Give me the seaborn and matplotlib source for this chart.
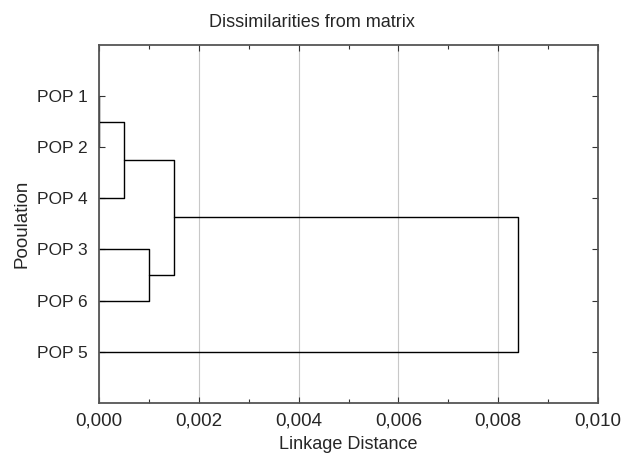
import matplotlib
matplotlib.use("Agg")
import matplotlib.pyplot as plt
from matplotlib.ticker import FuncFormatter, MultipleLocator
import seaborn as sns
import pandas as pd

# leaves in dendrogram order (top to bottom)
populations = ["POP 1", "POP 2", "POP 4", "POP 3", "POP 6", "POP 5"]

# merges: cluster ids 0..5 are leaves, new clusters get 6, 7, ...
merge_left = [0, 6, 3, 7, 9]
merge_right = [1, 2, 4, 8, 5]
merge_dist = [0.0, 0.0005, 0.0010, 0.0015, 0.0084]

sns.set_style("white")
plt.rcParams["font.family"] = ["Liberation Sans", "DejaVu Sans"]

fig = plt.figure(figsize=(6.23, 4.63), dpi=100)
ax = fig.add_axes([0.159, 0.13, 0.801, 0.773])

# positions / heights of each cluster
ypos = {i: i + 1 for i in range(len(populations))}
height = {i: 0.0 for i in range(len(populations))}

segments = []
for k, (a, b, d) in enumerate(zip(merge_left, merge_right, merge_dist)):
    new_id = len(populations) + k
    segments.append(pd.DataFrame({
        "x": [height[a], d, d, height[b]],
        "y": [ypos[a], ypos[a], ypos[b], ypos[b]],
        "link": k,
    }))
    ypos[new_id] = (ypos[a] + ypos[b]) / 2
    height[new_id] = d

links = pd.concat(segments, ignore_index=True)
for k, grp in links.groupby("link"):
    sns.lineplot(data=grp, x="x", y="y", sort=False, estimator=None,
                 color="black", linewidth=1.0, ax=ax)

ax.set_xlim(0, 0.010)
ax.set_ylim(len(populations) + 1, 0)
ax.set_yticks(range(1, len(populations) + 1))
ax.set_yticklabels(populations)
ax.xaxis.set_major_locator(MultipleLocator(0.002))
ax.xaxis.set_minor_locator(MultipleLocator(0.001))
ax.xaxis.set_major_formatter(FuncFormatter(lambda v, p: f"{v:.3f}".replace(".", ",")))

ax.grid(axis="x", color="#c8c8c8", linewidth=0.8)
ax.grid(axis="y", visible=False)
ax.set_axisbelow(True)

ax.tick_params(axis="both", which="both", direction="in", top=True, right=True,
               bottom=True, left=True, color="#333333")
ax.tick_params(axis="y", labelsize=12.5, pad=8)
ax.tick_params(axis="x", labelsize=13.5, pad=7)
ax.tick_params(which="major", length=4, width=0.8)
ax.tick_params(which="minor", length=3, width=0.8)

for s in ax.spines.values():
    s.set_color("#555555")
    s.set_linewidth(1.3)

# title is centred on the whole figure, not on the axes
fig.suptitle("Dissimilarities from matrix", x=0.5, y=0.952, va="center", fontsize=13)
ax.set_xlabel("Linkage Distance", fontsize=13, labelpad=5)
ax.set_ylabel("Pooulation", fontsize=13.5, labelpad=5)

fig.savefig("out.png", dpi=100)
